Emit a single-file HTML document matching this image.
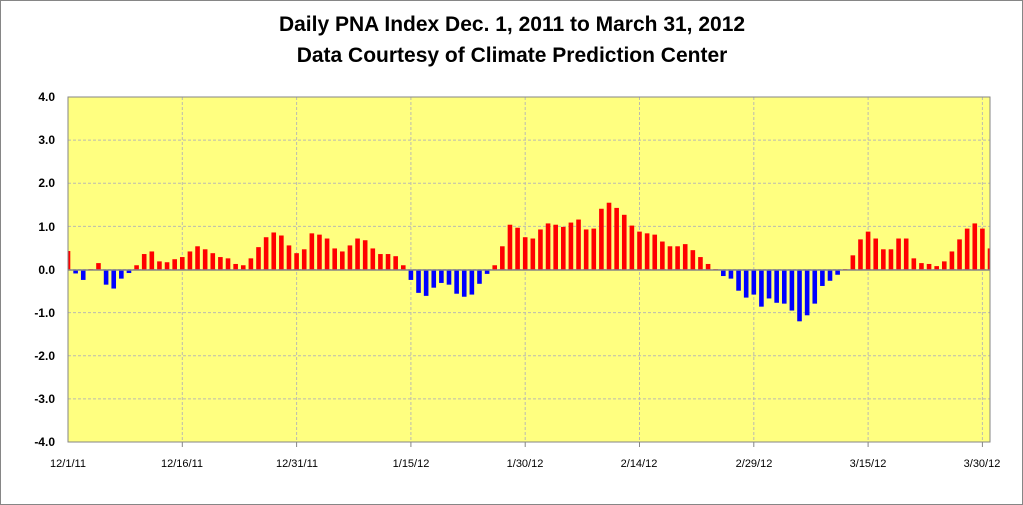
<!DOCTYPE html>
<html><head><meta charset="utf-8"><style>
html,body{margin:0;padding:0;background:#fff}
svg{display:block}
</style></head><body>
<svg id="c" width="1023" height="505" xmlns="http://www.w3.org/2000/svg" font-family="Liberation Sans, sans-serif">
<rect x="0.5" y="0.5" width="1022" height="504" fill="#fff" stroke="#868686"/>
<text x="512" y="31" text-anchor="middle" font-size="21" font-weight="bold">Daily PNA Index Dec. 1, 2011 to March 31, 2012</text>
<text x="512" y="62" text-anchor="middle" font-size="21" font-weight="bold">Data Courtesy of Climate Prediction Center</text>
<rect x="68" y="97" width="922" height="345" fill="#ffff80"/>
<g id="grid" stroke="#bbbbb0" stroke-dasharray="3,2" stroke-width="1"></g>
<g id="bars"></g>
<line x1="68" y1="270" x2="990" y2="270" stroke="#868686" stroke-width="1.5"/>
<rect x="68" y="97" width="922" height="345" fill="none" stroke="#868686"/>
<g font-size="12" font-weight="bold" text-anchor="end">
<text x="55" y="101">4.0</text><text x="55" y="144">3.0</text><text x="55" y="187">2.0</text><text x="55" y="231">1.0</text><text x="55" y="274">0.0</text><text x="55" y="317">-1.0</text><text x="55" y="360">-2.0</text><text x="55" y="403">-3.0</text><text x="55" y="446">-4.0</text>
</g>
<g font-size="11" text-anchor="middle">
<text x="68" y="467">12/1/11</text><text x="182" y="467">12/16/11</text><text x="297" y="467">12/31/11</text><text x="411" y="467">1/15/12</text><text x="525" y="467">1/30/12</text><text x="639" y="467">2/14/12</text><text x="754" y="467">2/29/12</text><text x="868" y="467">3/15/12</text><text x="982" y="467">3/30/12</text>
</g>
</svg>
<script>
var v=[0.44,-0.08,-0.23,0.02,0.16,-0.34,-0.43,-0.2,-0.07,0.11,0.37,0.43,0.2,0.18,0.25,0.3,0.43,0.55,0.48,0.39,0.3,0.27,0.14,0.11,0.27,0.53,0.76,0.87,0.8,0.57,0.39,0.48,0.85,0.82,0.73,0.5,0.43,0.57,0.73,0.69,0.5,0.37,0.37,0.32,0.11,-0.23,-0.53,-0.6,-0.41,-0.3,-0.34,-0.55,-0.62,-0.57,-0.32,-0.09,0.11,0.55,1.05,0.98,0.76,0.73,0.94,1.08,1.05,1.0,1.1,1.17,0.94,0.96,1.42,1.56,1.44,1.28,1.03,0.89,0.85,0.82,0.66,0.55,0.55,0.6,0.46,0.3,0.14,0.02,-0.14,-0.2,-0.48,-0.64,-0.57,-0.85,-0.66,-0.76,-0.78,-0.94,-1.19,-1.05,-0.78,-0.37,-0.25,-0.11,0.02,0.34,0.71,0.89,0.73,0.48,0.48,0.73,0.73,0.27,0.16,0.14,0.09,0.2,0.43,0.71,0.96,1.08,0.96,0.5];
var ns="http://www.w3.org/2000/svg",g=document.getElementById('grid'),b=document.getElementById('bars');
function el(t,a,p){var e=document.createElementNS(ns,t);for(var k in a)e.setAttribute(k,a[k]);p.appendChild(e);}
for(var i=1;i<8;i++){var y=97+i*43.125;el('line',{x1:68,x2:990,y1:y,y2:y},g);}
for(var i=1;i<9;i++){var x=68+i*15*7.62;el('line',{x1:x,x2:x,y1:97,y2:442},g);el('line',{x1:x,x2:x,y1:442,y2:447,stroke:'#868686','stroke-dasharray':'none'},g);}
var s=43.125;
for(var i=0;i<v.length;i++){var cx=68+i*7.62,x0=cx-2.3,x1=cx+2.3;if(x0<68)x0=68;if(x1>990)x1=990;
var h=Math.abs(v[i])*s,y=v[i]>=0?270-h:270;
el('rect',{x:x0,y:y,width:x1-x0,height:h,fill:v[i]>=0?'#ff0000':'#0000ff'},b);}
</script>
</body></html>
